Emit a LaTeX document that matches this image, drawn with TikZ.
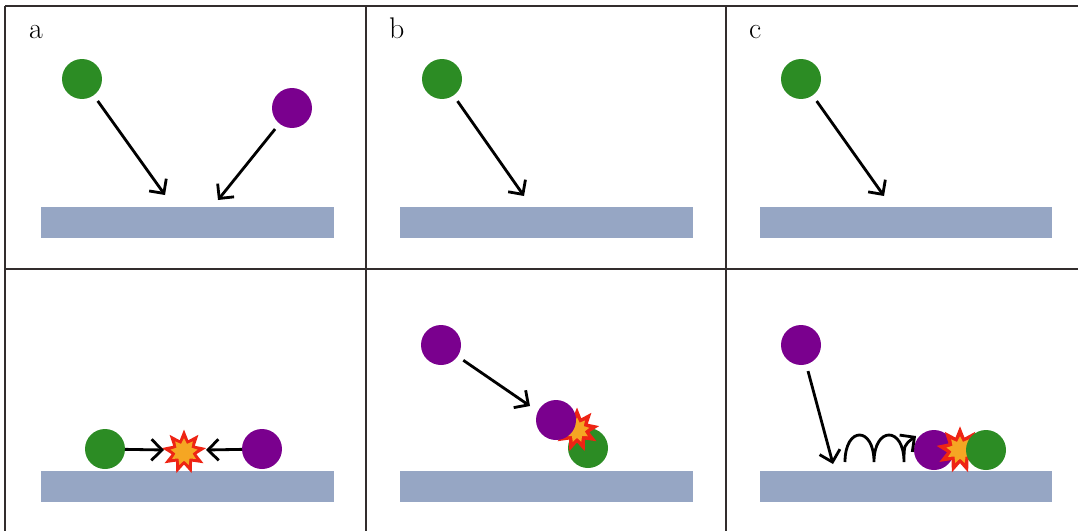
\documentclass[tikz,border=0pt]{standalone}
\usepackage{tikz}
\usetikzlibrary{arrows.meta,shapes.geometric,positioning}
\definecolor{beadgreen}{RGB}{44,140,36}
\definecolor{beadpurple}{RGB}{122,0,142}
\definecolor{slabblue}{RGB}{150,166,196}
\definecolor{flashred}{RGB}{238,36,20}
\definecolor{flashorange}{RGB}{245,166,35}
\definecolor{gridgrey}{RGB}{50,45,45}

\begin{document}
\begin{tikzpicture}[
    x=0.02cm, y=-0.02cm,
    font=\fontsize{17}{20}\selectfont,
    >={Straight Barb[length=6pt,width=12pt]},
    arrow/.style={->, line width=1.6pt, shorten <=4pt},
    pusharrow/.style={->, line width=1.6pt},
    gridline/.style={gridgrey, line width=0.8pt},
    bead/.style={circle, minimum size=0.8cm, inner sep=0pt, outer sep=0pt},
    greenbead/.style={bead, fill=beadgreen},
    purplebead/.style={bead, fill=beadpurple},
    slab/.style={fill=slabblue, draw=none, minimum width=5.86cm,
                 minimum height=0.62cm, inner sep=0pt},
    flash/.style={star, star points=9, star point ratio=1.8, fill=flashred,
                  inner sep=0pt, minimum size=#1},
    flashcore/.style={star, star points=9, star point ratio=1.6, fill=flashorange,
                      inner sep=0pt, minimum size=#1},
    panel/.style={anchor=base west},
]
\useasboundingbox (0,0) rectangle (1078,531);

%% -- grid
\draw[gridline] (5,6) -- (1078,6);
\draw[gridline] (5,269) -- (1078,269);
\draw[gridline] (5,6) -- (5,531);
\draw[gridline] (366,6) -- (366,531);
\draw[gridline] (726,6) -- (726,531);

%% -- panel labels
\node[panel] (la) at (23,38) {a};
\node[panel] (lb) at (383,38) {b};
\node[panel] (lc) at (743,38) {c};

%% -- (a) top: both arrive
\node[slab] (slabat) at (187.5,222) {};
\node[greenbead]  (ga1) at (82,79)   {};
\node[purplebead] (pa1) at (292,108) {};
\coordinate (ta1) at (165,195);
\coordinate (ta2) at (218,200);
\draw[arrow] (ga1) -- (ta1);
\draw[arrow] (pa1) -- (ta2);

%% -- (b) top: one arrives
\node[slab] (slabbt) at (546.5,222) {};
\node[greenbead] (gb1) at (442,79) {};
\coordinate (tb1) at (524,196);
\draw[arrow] (gb1) -- (tb1);

%% -- (c) top: one arrives
\node[slab] (slabct) at (906,222) {};
\node[greenbead] (gc1) at (801,79) {};
\coordinate (tc1) at (884,196);
\draw[arrow] (gc1) -- (tc1);

%% -- (a) bottom: both on surface
\node[slab] (slabab) at (187.5,486) {};
\node[greenbead]  (ga2) at (105,449) {};
\node[purplebead] (pa2) at (262,449) {};
\node[flash=0.9cm]     (fa) at (184,452) {};
\node[flashcore=0.55cm] at (fa) {};
\coordinate (ka1) at (164,450);
\coordinate (ka2) at (206,450);
\draw[pusharrow] (ga2) -- (ka1);
\draw[pusharrow] (pa2) -- (ka2);

%% -- (b) bottom: hits the adsorbed one
\node[slab] (slabbb) at (546.5,486) {};
\node[purplebead] (pb1) at (441,345) {};
\node[greenbead]  (gb2) at (588,448) {};
\node[flash=0.9cm]     (fb) at (577,430) {};
\node[flashcore=0.5cm] at (fb) {};
\node[purplebead] (pb2) at (556,420) {};
\coordinate (kb1) at (530,406);
\draw[arrow] (pb1) -- (kb1);

%% -- (c) bottom: lands, hops, then meets
\node[slab] (slabcb) at (906,486) {};
\node[purplebead] (pc1) at (801,345) {};
\node[purplebead] (pc2) at (934,450) {};
\node[flash=0.95cm]     (fc) at (960,450) {};
\node[flashcore=0.55cm] at (fc) {};
\node[greenbead]  (gc2) at (986,450) {};
\coordinate (kc1) at (833,464);
\coordinate (hop0) at (845,462);
\coordinate (hop1) at (916,436);
\draw[arrow] (pc1) -- (kc1);
\draw[->, line width=1.6pt] (hop0) .. controls (845,426) and (874,426) .. (874,462)
  .. controls (874,426) and (904,426) .. (904,462)
  .. controls (904,445) .. (hop1);

\end{tikzpicture}
\end{document}
